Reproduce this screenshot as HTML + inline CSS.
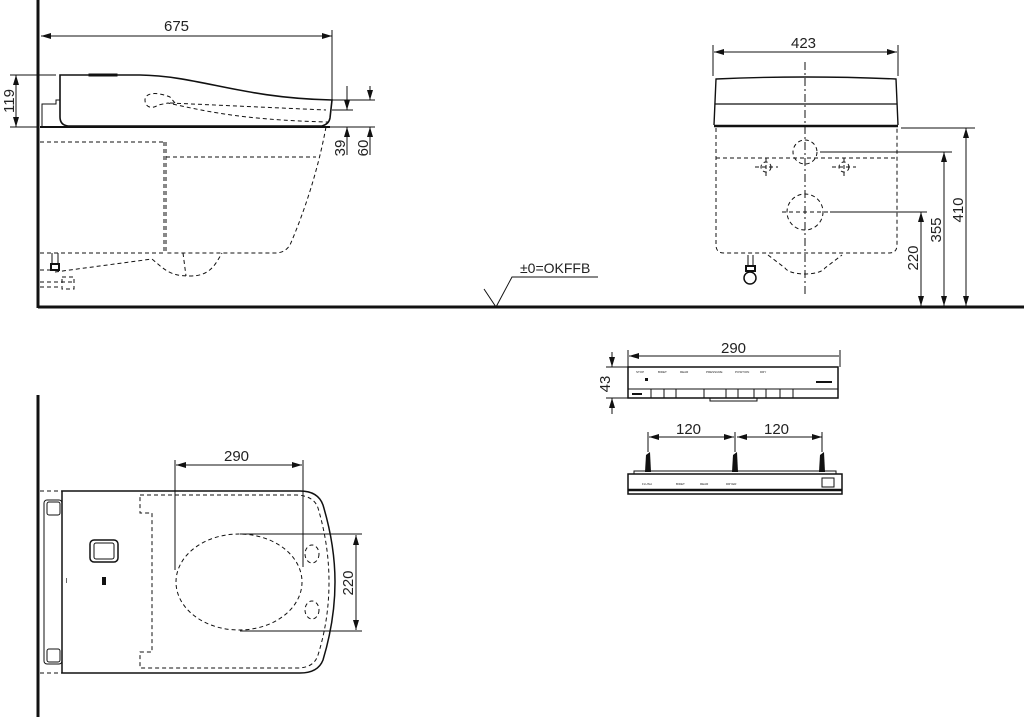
<!DOCTYPE html>
<html><head><meta charset="utf-8"><style>
html,body{margin:0;padding:0;background:#fff}
svg{display:block}
text{font-family:"Liberation Sans",sans-serif;fill:#222}
</style></head><body>
<svg width="1024" height="717" viewBox="0 0 1024 717" xmlns="http://www.w3.org/2000/svg">
<defs>
<marker id="a" viewBox="0 0 10 6" refX="10" refY="3" markerWidth="10" markerHeight="6" orient="auto-start-reverse" markerUnits="userSpaceOnUse"><path d="M0,0 L10,3 L0,6z" fill="#111"/></marker>
</defs>
<g stroke="#111" fill="none" stroke-width="1">
<line x1="38" y1="0" x2="38" y2="308" stroke-width="3"/>
<line x1="38" y1="307" x2="1024" y2="307" stroke-width="3"/>
<line x1="41" y1="36" x2="332" y2="36" marker-start="url(#a)" marker-end="url(#a)"/>
<line x1="332" y1="30" x2="332" y2="100"/>
<line x1="10" y1="75" x2="56" y2="75"/>
<line x1="10" y1="127" x2="38" y2="127"/>
<line x1="16" y1="75" x2="16" y2="127" marker-start="url(#a)" marker-end="url(#a)"/>
<path d="M60,75 L140,75 C200,76 240,98 332,100 L330,118 Q329,124 322,126 L68,126 Q60,125 60,117 Z" stroke-width="1.6"/>
<rect x="89" y="74" width="28" height="2" fill="#111"/>
<path d="M42,127 L42,104 L56,104 L56,100 L60,100"/>
<line x1="40" y1="127" x2="330" y2="127" stroke-width="2"/>
<path d="M175,103 L170,97 C158,92 145,92 145,100 C145,108 153,109 158,105 L168,103 C200,110 240,120 328,122" stroke-dasharray="4,3"/>
<line x1="170" y1="103" x2="326" y2="110" stroke-dasharray="4,3"/>
<g stroke-dasharray="4,3">
<path d="M40,142 L166,142 L166,253 M164,142 L164,253"/>
<path d="M166,157 L316,157"/>
<path d="M326,127 C318,170 305,210 290,245 Q285,253 275,253 L166,253"/>
<path d="M40,253 L166,253"/>
<path d="M55,272 L152,259 C165,270 170,276 190,276 C210,276 215,265 222,253"/>
<path d="M183,253 L186,276"/>
<path d="M40,270 L60,270 M40,282 L75,282 M40,287 L60,287"/>
<rect x="62" y="277" width="12" height="12"/>
</g>
<path d="M52,253 L52,265 M58,253 L58,265"/>
<rect x="51" y="264" width="8" height="6" stroke-width="2"/>
<line x1="332" y1="100" x2="375" y2="100"/>
<line x1="332" y1="110" x2="353" y2="110"/>
<line x1="328" y1="127" x2="375" y2="127"/>
<line x1="347" y1="86" x2="347" y2="110" marker-end="url(#a)"/>
<line x1="347" y1="155" x2="347" y2="127" marker-end="url(#a)"/>
<line x1="370" y1="86" x2="370" y2="100" marker-end="url(#a)"/>
<line x1="370" y1="155" x2="370" y2="127" marker-end="url(#a)"/>
<path d="M484,289 L496,307 L512,277 L598,277"/>
<line x1="713" y1="45" x2="713" y2="76"/>
<line x1="898" y1="45" x2="898" y2="76"/>
<line x1="714" y1="52" x2="897" y2="52" marker-start="url(#a)" marker-end="url(#a)"/>
<path d="M714,125 L716,79 Q805,75 896,79 L898,125" stroke-width="1.4"/>
<line x1="715" y1="104" x2="897" y2="104" stroke-width="1.2"/>
<line x1="714" y1="126" x2="898" y2="126" stroke-width="2.5"/>
<g stroke-dasharray="4,3">
<path d="M716,128 L716,245 Q716,253 724,253 L889,253 Q897,253 897,245 L897,128"/>
<line x1="716" y1="158" x2="897" y2="158"/>
<circle cx="805" cy="152" r="12"/>
<circle cx="766" cy="167" r="5"/>
<circle cx="844" cy="167" r="5"/>
<circle cx="805" cy="212" r="18"/>
<line x1="782" y1="212" x2="828" y2="212"/>
<line x1="755" y1="167" x2="778" y2="167"/><line x1="766" y1="158" x2="766" y2="178"/>
<line x1="832" y1="167" x2="856" y2="167"/><line x1="844" y1="158" x2="844" y2="178"/>
<path d="M768,255 L785,268 C790,276 820,276 825,268 L842,255"/>
</g>
<line x1="805" y1="62" x2="805" y2="295" stroke-dasharray="8,3,2,3"/>
<path d="M748,255 L748,267 M753,255 L753,267"/>
<rect x="746" y="266" width="9" height="5" stroke-width="2"/>
<circle cx="750" cy="278" r="6" stroke-width="1.5"/>
<line x1="820" y1="152" x2="952" y2="152"/>
<line x1="830" y1="212" x2="927" y2="212"/>
<line x1="901" y1="128" x2="975" y2="128"/>
<line x1="921" y1="212" x2="921" y2="306" marker-start="url(#a)" marker-end="url(#a)"/>
<line x1="944" y1="152" x2="944" y2="306" marker-start="url(#a)" marker-end="url(#a)"/>
<line x1="966" y1="128" x2="966" y2="306" marker-start="url(#a)" marker-end="url(#a)"/>
<line x1="628" y1="350" x2="628" y2="367"/>
<line x1="840" y1="350" x2="840" y2="367"/>
<line x1="629" y1="356" x2="839" y2="356" marker-start="url(#a)"/>
<line x1="606" y1="367" x2="628" y2="367"/>
<line x1="606" y1="398" x2="628" y2="398"/>
<line x1="612" y1="352" x2="612" y2="367" marker-end="url(#a)"/>
<line x1="612" y1="414" x2="612" y2="398" marker-end="url(#a)"/>
<rect x="628" y="367" width="210" height="31" stroke-width="1.5"/>
<path d="M628,389 L838,389" />
<path d="M651,389 V398 M664,389 V398 M676,389 V398 M704,389 V398 M726,389 V398 M738,389 V398 M754,389 V398 M766,389 V398 M780,389 V398 M793,389 V398"/>
<path d="M710,398 L710,401 L757,401 L757,398"/>
<line x1="649" y1="437" x2="734" y2="437" marker-start="url(#a)" marker-end="url(#a)"/>
<line x1="737" y1="437" x2="822" y2="437" marker-start="url(#a)" marker-end="url(#a)"/>
<line x1="648" y1="432" x2="648" y2="452"/>
<line x1="735" y1="432" x2="735" y2="452"/>
<line x1="822" y1="432" x2="822" y2="452"/>
<rect x="628" y="474" width="214" height="20" stroke-width="1.5"/>
<line x1="628" y1="490" x2="842" y2="490" stroke-width="2.5"/>
<path d="M634,474 L634,471 L836,471 L836,474"/>
<rect x="822" y="478" width="12" height="9"/>
</g>
<g fill="#111">
<path d="M645,472 L646,455 L650,452 L651,472z"/>
<path d="M732,472 L733,455 L737,452 L738,472z"/>
<path d="M819,472 L820,455 L824,452 L825,472z"/>
<rect x="645" y="378" width="3" height="3"/>
<rect x="816" y="381" width="16" height="2"/>
<rect x="632" y="393" width="10" height="2"/>
<text x="636" y="373" font-size="3">STOP</text>
<text x="658" y="373" font-size="3">BIDET</text>
<text x="680" y="373" font-size="3">REAR</text>
<text x="706" y="373" font-size="3">PRESSURE</text>
<text x="735" y="373" font-size="3">POSITION</text>
<text x="760" y="373" font-size="3">DRY</text>
<text x="642" y="485" font-size="3">FLUSH</text>
<text x="676" y="485" font-size="3">BIDET</text>
<text x="700" y="485" font-size="3">REAR</text>
<text x="726" y="485" font-size="3">DRYER</text>
</g>
<g stroke="#111" fill="none">
<line x1="38" y1="395" x2="38" y2="717" stroke-width="3"/>
<path d="M40,491 L62,491 M40,673 L62,673" stroke-dasharray="4,3"/>
<path d="M62,491 L300,491 Q318,491 323,505 Q335,545 335,582 Q335,620 323,660 Q318,673 300,673 L62,673 Z" stroke-width="1.5"/>
<rect x="44" y="500" width="18" height="164" rx="3"/>
<rect x="47" y="502" width="13" height="13" rx="2"/>
<rect x="47" y="649" width="13" height="13" rx="2"/>
<rect x="90" y="540" width="28" height="22" rx="4" stroke-width="1.5"/>
<rect x="94" y="543" width="20" height="16" rx="2"/>
<g stroke-dasharray="4,3">
<path d="M140,495 L297,495 Q314,496 318,508 Q329,545 329,582 Q329,620 318,655 Q314,668 297,668 L140,668 L140,652 L152,652 L152,513 L140,513 Z"/>
<ellipse cx="239" cy="582" rx="63" ry="48"/>
<ellipse cx="312" cy="554" rx="7" ry="9"/>
<ellipse cx="312" cy="610" rx="7" ry="9"/>
</g>
<line x1="175" y1="460" x2="175" y2="570"/>
<line x1="303" y1="460" x2="303" y2="567"/>
<line x1="176" y1="465" x2="302" y2="465" marker-start="url(#a)" marker-end="url(#a)"/>
<line x1="240" y1="534" x2="362" y2="534"/>
<line x1="240" y1="631" x2="362" y2="631"/>
<line x1="356" y1="535" x2="356" y2="630" marker-start="url(#a)" marker-end="url(#a)"/>
</g>
<rect x="102" y="577" width="4" height="8" fill="#111"/>
<rect x="66" y="578" width="1" height="5" fill="#666"/>
<g font-size="15">
<text x="164" y="31">675</text>
<text x="791" y="48">423</text>
<text x="721" y="353">290</text>
<text x="676" y="434">120</text>
<text x="764" y="434">120</text>
<text x="224" y="461">290</text>
<text x="520" y="273" font-size="14">±0=OKFFB</text>
<text transform="translate(14,101) rotate(-90)" text-anchor="middle">119</text>
<text transform="translate(345,148) rotate(-90)" text-anchor="middle">39</text>
<text transform="translate(368,148) rotate(-90)" text-anchor="middle">60</text>
<text transform="translate(918,258) rotate(-90)" text-anchor="middle">220</text>
<text transform="translate(941,230) rotate(-90)" text-anchor="middle">355</text>
<text transform="translate(963,210) rotate(-90)" text-anchor="middle">410</text>
<text transform="translate(610,384) rotate(-90)" text-anchor="middle">43</text>
<text transform="translate(353,583) rotate(-90)" text-anchor="middle">220</text>
</g>
</svg>
</body></html>
